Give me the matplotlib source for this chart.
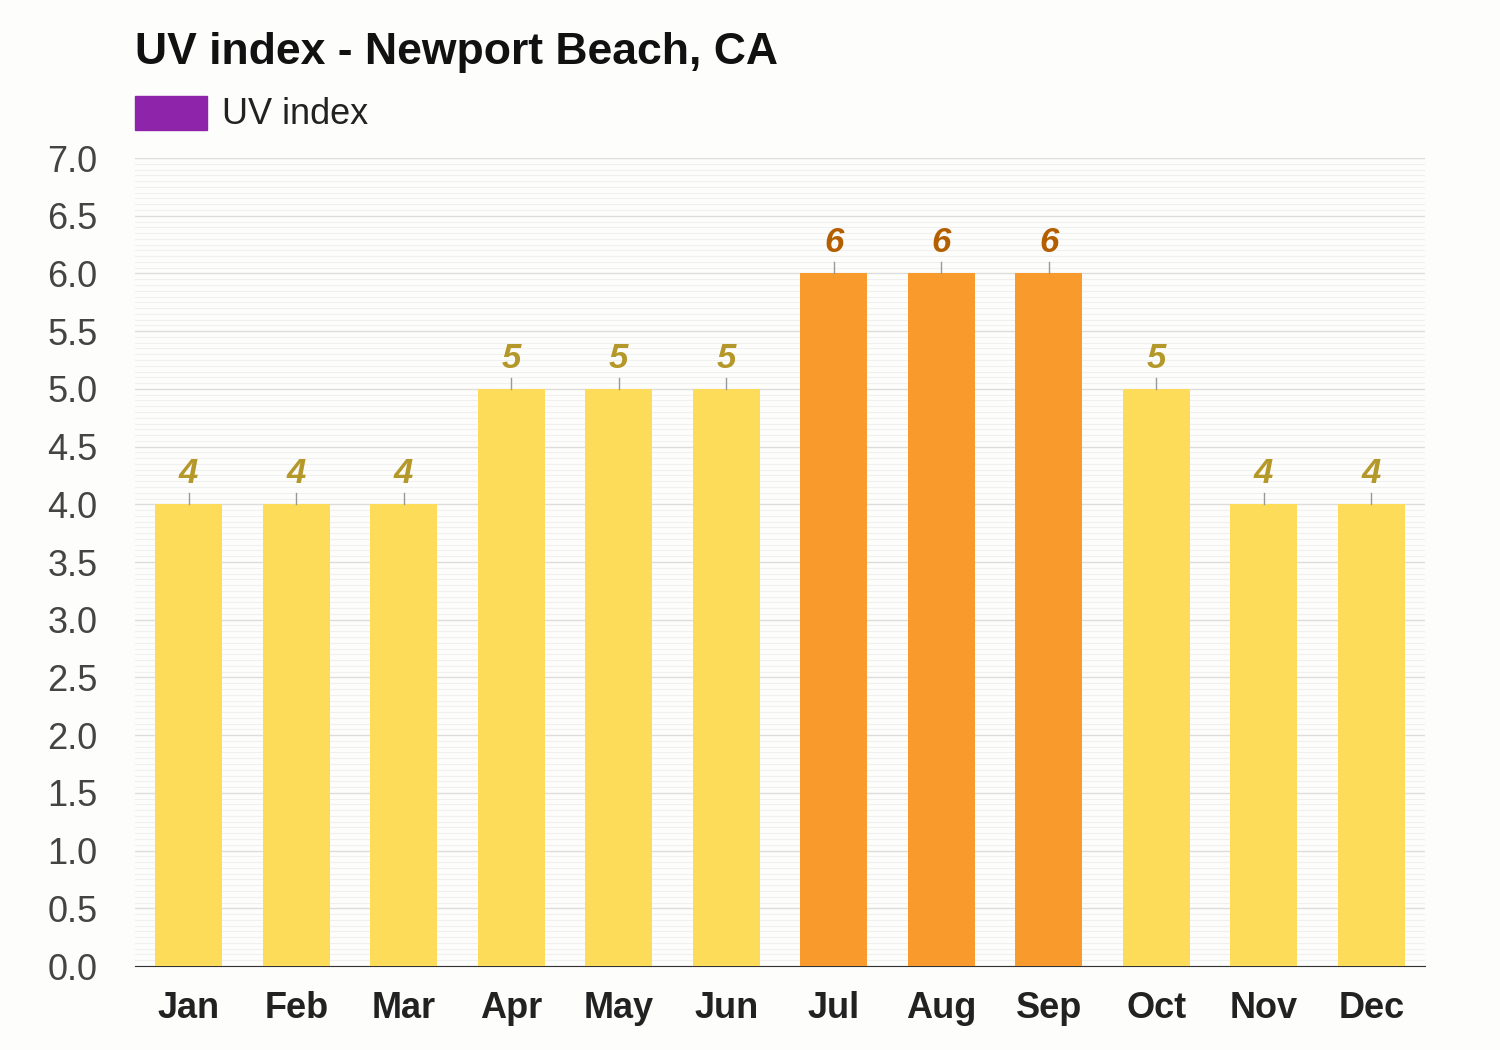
import matplotlib.pyplot as plt
from matplotlib.patches import Rectangle
from matplotlib.ticker import MultipleLocator

plt.rcParams['font.family'] = ['Liberation Sans', 'DejaVu Sans']

months = ['Jan', 'Feb', 'Mar', 'Apr', 'May', 'Jun', 'Jul', 'Aug', 'Sep', 'Oct', 'Nov', 'Dec']
uv = [4, 4, 4, 5, 5, 5, 6, 6, 6, 5, 4, 4]

yellow = '#fcdc58'
orange = '#f99b2c'
colores = [orange if v >= 6 else yellow for v in uv]
col_txt = ['#b35f00' if v >= 6 else '#b5982a' for v in uv]

fig = plt.figure(figsize=(15, 10.5), dpi=100, facecolor='#fdfdfc')
ax = fig.add_axes([0.09, 0.08, 0.86, 0.7695])
ax.set_facecolor('#fdfdfc')

x = list(range(len(months)))
ax.bar(x, uv, width=0.62, color=colores, zorder=3)

for i, v in enumerate(uv):
    ax.plot([i, i], [v, v + 0.095], color='#999999', lw=1, zorder=4)
    ax.text(i, v + 0.185, str(v), ha='center', va='baseline', fontsize=25,
            fontweight='bold', fontstyle='italic', color=col_txt[i])

ax.set_xlim(-0.5, 11.5)
ax.set_ylim(0, 7)
ax.yaxis.set_minor_locator(MultipleLocator(0.05))
ax.set_yticks([i * 0.5 for i in range(15)])
ax.set_yticklabels([f'{i * 0.5:.1f}' for i in range(15)])
ax.grid(axis='y', which='major', color='#dddddd', lw=1, zorder=0)
ax.grid(axis='y', which='minor', color='#f0f0f0', lw=0.8, zorder=0)
ax.set_xticks(x)
ax.set_xticklabels(months, fontweight='bold')
ax.tick_params(axis='x', length=0, labelsize=26, pad=18, colors='#222222')
ax.tick_params(axis='y', which='both', length=0, labelsize=26, pad=27, colors='#444444')

for s in ['top', 'right', 'left']:
    ax.spines[s].set_visible(False)
ax.spines['bottom'].set_color('#333333')

fig.text(0.09, 0.950, 'UV index - Newport Beach, CA', fontsize=32, fontweight='bold',
         color='#111111', va='center', ha='left')
fig.patches.append(Rectangle((0.09, 0.876), 0.048, 0.033, transform=fig.transFigure,
                             color='#8e24aa', figure=fig))
fig.text(0.148, 0.891, 'UV index', fontsize=26, color='#222222', va='center', ha='left')

plt.savefig('out.png', dpi=100, facecolor=fig.get_facecolor())
